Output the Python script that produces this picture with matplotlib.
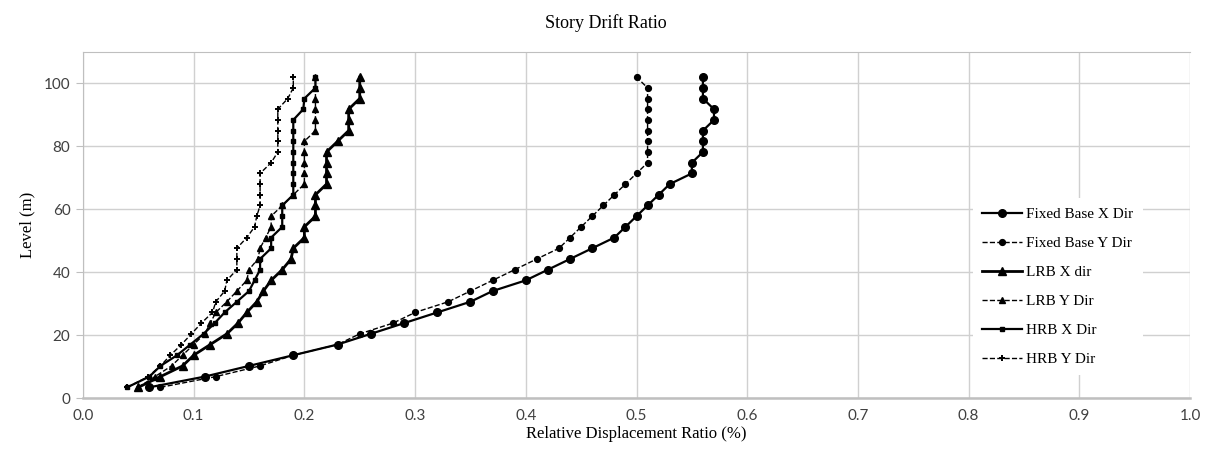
import numpy as np
import matplotlib.pyplot as plt

# story levels (m)
levels = [3.4, 6.8, 10.2, 13.6, 17.0, 20.4, 23.8, 27.2, 30.6, 34.0,
          37.4, 40.8, 44.2, 47.6, 51.0, 54.4, 57.8, 61.2, 64.6, 68.0,
          71.4, 74.8, 78.2, 81.6, 85.0, 88.4, 91.8, 95.2, 98.6, 102.0]

# drift ratios (%), bottom to top
fixed_x = [0.06, 0.11, 0.15, 0.19, 0.23, 0.26, 0.29, 0.32, 0.35, 0.37,
           0.40, 0.42, 0.44, 0.46, 0.48, 0.49, 0.50, 0.51, 0.52, 0.53,
           0.55, 0.55, 0.56, 0.56, 0.56, 0.57, 0.57, 0.56, 0.56, 0.56]
fixed_y = [0.07, 0.12, 0.16, 0.19, 0.23, 0.25, 0.28, 0.30, 0.33, 0.35,
           0.37, 0.39, 0.41, 0.43, 0.44, 0.45, 0.46, 0.47, 0.48, 0.49,
           0.50, 0.51, 0.51, 0.51, 0.51, 0.51, 0.51, 0.51, 0.51, 0.50]
lrb_x = [0.05, 0.07, 0.09, 0.10, 0.115, 0.13, 0.14, 0.148, 0.157, 0.163,
         0.17, 0.18, 0.188, 0.19, 0.20, 0.20, 0.21, 0.21, 0.21, 0.22,
         0.22, 0.22, 0.22, 0.23, 0.24, 0.24, 0.24, 0.25, 0.25, 0.25]
lrb_y = [0.05, 0.065, 0.08, 0.09, 0.10, 0.11, 0.115, 0.12, 0.13, 0.139,
         0.148, 0.15, 0.158, 0.16, 0.165, 0.17, 0.17, 0.18, 0.19, 0.20,
         0.20, 0.20, 0.20, 0.20, 0.21, 0.21, 0.21, 0.21, 0.21, 0.21]
hrb_x = [0.04, 0.06, 0.07, 0.085, 0.097, 0.109, 0.119, 0.128, 0.139, 0.15,
         0.155, 0.16, 0.16, 0.17, 0.17, 0.18, 0.18, 0.18, 0.19, 0.19,
         0.19, 0.19, 0.19, 0.19, 0.19, 0.19, 0.199, 0.20, 0.21, 0.21]
hrb_y = [0.04, 0.059, 0.07, 0.079, 0.089, 0.098, 0.107, 0.117, 0.12, 0.128,
         0.13, 0.139, 0.139, 0.139, 0.148, 0.155, 0.157, 0.16, 0.16, 0.16,
         0.16, 0.17, 0.176, 0.176, 0.176, 0.176, 0.176, 0.185, 0.19, 0.19]

serif = ['Liberation Serif', 'DejaVu Serif']
sans = ['Lato', 'DejaVu Sans']

fig = plt.figure(figsize=(12.11, 4.58), dpi=100)
ax = fig.add_axes([0.0685, 0.131, 0.9142, 0.7555])

ax.plot(fixed_x, levels, color='black', ls='-', lw=1.6, marker='o', ms=5.5, label='Fixed Base X Dir')
ax.plot(fixed_y, levels, color='black', ls='--', lw=1.0, marker='o', ms=4.2, label='Fixed Base Y Dir')
ax.plot(lrb_x, levels, color='black', ls='-', lw=2.0, marker='^', ms=5.5, label='LRB X dir')
ax.plot(lrb_y, levels, color='black', ls='--', lw=1.0, marker='^', ms=4.2, label='LRB Y Dir')
ax.plot(hrb_x, levels, color='black', ls='-', lw=1.6, marker='s', ms=3, label='HRB X Dir')
ax.plot(hrb_y, levels, color='black', ls='--', lw=1.0, marker='+', ms=5, mew=1.4, label='HRB Y Dir')

ax.set_xlim(0, 1.0)
ax.set_ylim(0, 110)
ax.set_xticks(np.arange(0, 1.01, 0.1))
ax.set_yticks(np.arange(0, 101, 20))
ax.set_xticklabels(['%.1f' % v for v in np.arange(0, 1.01, 0.1)], family=sans, fontsize=11)
ax.set_yticklabels([str(v) for v in range(0, 101, 20)], family=sans, fontsize=11)
ax.tick_params(axis='x', length=0, pad=8, colors='#404040')
ax.tick_params(axis='y', length=5, color='#BFBFBF', pad=4, labelcolor='#404040')
ax.grid(True, color='#D0D0D0', lw=1.0)
ax.set_axisbelow(True)
for s in ax.spines.values():
    s.set_color('#BFBFBF')
ax.spines['bottom'].set_linewidth(1.8)
ax.spines['right'].set_visible(False)

ax.set_xlabel('Relative Displacement Ratio (%)', family=serif, fontsize=12, labelpad=2)
ax.set_ylabel('Level (m)', family=serif, fontsize=12, labelpad=6)
fig.suptitle('Story Drift Ratio', family=serif, fontsize=13, y=0.97)

leg = ax.legend(loc='center left', bbox_to_anchor=(0.797, 0.322), frameon=True,
                prop={'family': serif, 'size': 11}, handlelength=2.6,
                labelspacing=1.0, handletextpad=0.3, borderpad=0.6)
leg.get_frame().set_edgecolor('none')
leg.get_frame().set_facecolor('white')
leg.get_frame().set_alpha(1.0)

plt.savefig('out.png', dpi=100)
